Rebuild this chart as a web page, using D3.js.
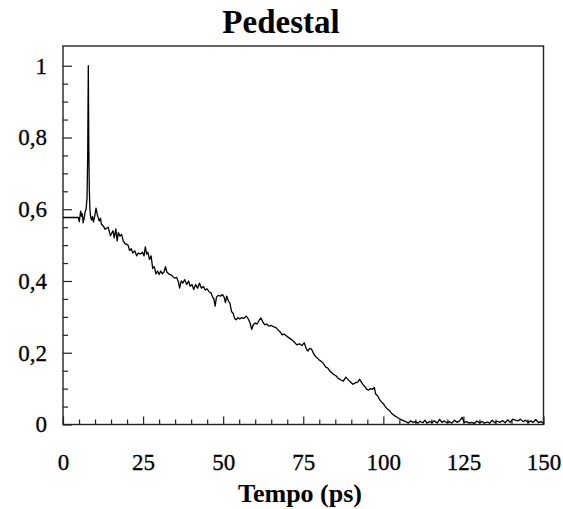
<!DOCTYPE html>
<html>
<head>
<meta charset="utf-8">
<script src="https://cdn.jsdelivr.net/npm/d3@7"></script>
<style>
  html, body { margin: 0; padding: 0; background: #fff; }
  svg { display: block; }
</style>
</head>
<body>
<svg id="chart" width="563" height="509"></svg>
<script>
// ---- data ----
const title = "Pedestal";
const xLabel = "Tempo (ps)";
const xTicks = [0, 25, 50, 75, 100, 125, 150];
const yTicks = [0, 0.2, 0.4, 0.6, 0.8, 1];

const tps = [
  0, 4.8, 5.1, 5.5, 5.8, 6.0, 6.3, 6.6, 6.9, 7.2, 7.5, 7.7, 7.9, 8.05, 8.2, 8.4, 8.6, 8.9, 9.2, 9.5, 9.9,
  10.3, 10.7, 11.3, 11.7, 12.0, 12.7, 13.1, 14.1, 14.8, 15.6, 16.0, 16.5, 16.9, 17.3, 17.8, 18.3, 18.8, 19.3,
  20.3, 20.8, 21.3, 21.8, 22.4, 23.0, 23.5, 24.2, 24.8, 25.3, 25.7, 26.1, 26.5, 27.0, 27.5, 28.0, 28.5, 29.0,
  29.5, 30.0, 30.5, 31.0, 31.5, 32.0, 32.4, 33.0, 33.5, 34.0, 34.8, 35.5, 36.0, 36.4, 36.9, 37.4, 38.0, 38.6,
  39.2, 39.7, 40.3, 40.8, 41.4, 42.0, 42.6, 43.2, 43.8, 44.4, 45.0, 45.6, 46.2, 46.7, 47.1, 47.5, 47.9, 48.5,
  49.2, 49.8, 50.3, 50.7, 51.1, 51.6, 52.1, 52.6, 53.1, 53.6, 54.1, 54.6, 55.2, 55.8, 56.5, 57.2, 57.8, 58.4,
  58.9, 59.4, 60.0, 60.6, 61.2, 61.8, 62.4, 63.0, 63.6, 64.3, 65.0, 65.8, 66.5, 67.2, 67.8, 68.4, 69.0, 70.0,
  70.8, 71.6, 72.4, 73.0, 73.8, 74.6, 75.3, 76.0, 76.5, 77.0, 77.6, 78.2, 78.8, 79.4, 80.0, 80.6, 81.3, 82.0,
  82.6, 83.2, 83.8, 84.4, 85.2, 86.0, 86.8, 87.5, 88.3, 89.0, 89.8, 90.5, 91.2, 92.0, 92.6, 93.0, 93.6, 94.2,
  94.8, 95.4, 96.0, 96.6, 97.2, 97.6, 98.2, 98.8, 99.4, 100.0, 100.6, 101.2, 101.8, 102.4, 103.0, 103.6, 104.3,
  105.0, 105.7, 106.4, 107.0, 107.8, 108.5, 109.3, 110.0, 110.8, 111.5, 112.3, 113.0, 113.6, 114.4, 115.2,
  116.0, 116.8, 117.6, 118.3, 119.0, 119.8, 120.6, 121.4, 122.2, 123.0, 123.8, 124.6, 125.2, 126.0, 126.8,
  127.6, 128.4, 129.2, 130.0, 130.8, 131.6, 132.4, 133.2, 134.0, 134.8, 135.6, 136.4, 137.2, 138.0, 138.8,
  139.6, 140.4, 141.2, 142.0, 142.8, 143.6, 144.4, 145.2, 146.0, 146.8, 147.6, 148.4, 149.2, 150.0
];

const signal = [
  0.577, 0.577, 0.565, 0.595, 0.58, 0.588, 0.562, 0.575, 0.592, 0.60, 0.63, 0.74, 1.0, 0.78, 0.66, 0.60, 0.58, 0.57, 0.58, 0.565, 0.58,
  0.603, 0.585, 0.567, 0.575, 0.558, 0.552, 0.544, 0.55, 0.526, 0.54, 0.52, 0.545, 0.512, 0.535, 0.525, 0.53, 0.512, 0.505,
  0.50, 0.485, 0.49, 0.478, 0.484, 0.47, 0.478, 0.475, 0.48, 0.47, 0.495, 0.475, 0.48, 0.46, 0.47, 0.435, 0.44, 0.42,
  0.428, 0.418, 0.428, 0.42, 0.425, 0.44, 0.425, 0.42, 0.418, 0.415, 0.408, 0.41, 0.398, 0.38, 0.40, 0.394, 0.404, 0.39,
  0.40, 0.385, 0.39, 0.376, 0.39, 0.38, 0.394, 0.38, 0.385, 0.375, 0.378, 0.37, 0.367, 0.355, 0.35, 0.33, 0.355, 0.36,
  0.358, 0.362, 0.355, 0.34, 0.358, 0.345, 0.338, 0.315, 0.31, 0.295, 0.292, 0.298, 0.294, 0.298, 0.296, 0.302, 0.295, 0.283,
  0.265, 0.278, 0.283, 0.28, 0.29, 0.297, 0.285, 0.278, 0.28, 0.274, 0.276, 0.272, 0.27, 0.263, 0.258, 0.25, 0.252, 0.245,
  0.24, 0.235, 0.228, 0.222, 0.225, 0.22, 0.228, 0.21, 0.205, 0.212, 0.21, 0.198, 0.19, 0.185, 0.18, 0.176, 0.17, 0.16,
  0.158, 0.15, 0.145, 0.14, 0.136, 0.128, 0.124, 0.121, 0.132, 0.125, 0.118, 0.112, 0.116, 0.118, 0.126, 0.12, 0.112, 0.106,
  0.098, 0.096, 0.10, 0.098, 0.103, 0.085, 0.08, 0.07, 0.063, 0.058, 0.05, 0.044, 0.04, 0.033, 0.028, 0.024, 0.02,
  0.016, 0.013, 0.01, 0.008, 0.004, 0.01, 0.006, 0.008, 0.004, 0.009, 0.005, 0.012, 0.004, 0.008, 0.006,
  0.01, 0.004, 0.014, 0.006, 0.01, 0.005, 0.008, 0.004, 0.012, 0.006, 0.01, 0.02, 0.006, 0.008, 0.004,
  0.006, 0.003, 0.01, 0.005, 0.008, 0.004, 0.007, 0.004, 0.012, 0.005, 0.009, 0.006, 0.011, 0.005, 0.013,
  0.006, 0.015, 0.012, 0.01, 0.015, 0.008, 0.012, 0.006, 0.01, 0.006, 0.014, 0.005, 0.008, 0.004
];

// ---- layout ----
const svg = d3.select("#chart");
const mLeft = 63, mRight = 543.5, mTop = 46, mBottom = 424.5;

const x = d3.scaleLinear().domain([0, 150]).range([mLeft, mRight]);
const y = d3.scaleLinear().domain([0, 1.055]).range([mBottom, mTop]);

const serif = "'Liberation Serif', 'Times New Roman', serif";

// title
svg.append("text")
  .attr("x", 281).attr("y", 33)
  .attr("text-anchor", "middle")
  .attr("font-family", serif).attr("font-weight", "bold").attr("font-size", 33)
  .text(title);

// frame
svg.append("rect")
  .attr("x", mLeft).attr("y", mTop)
  .attr("width", mRight - mLeft).attr("height", mBottom - mTop)
  .attr("fill", "none").attr("stroke", "#222").attr("stroke-width", 1.4);

// y axis minor ticks
const fmt = d => d === 0 ? "0" : d === 1 ? "1" : d3.format(".1f")(d).replace(".", ",");
const yMinor = d3.range(0, 1.0001, 0.05).filter(v => Math.round(v * 100) % 20 !== 0);
svg.append("g").attr("transform", `translate(${mLeft},0)`)
  .call(d3.axisLeft(y).tickValues(yMinor).tickSize(-5).tickFormat(""))
  .call(g => g.select(".domain").remove())
  .call(g => g.selectAll("line").attr("stroke", "#222").attr("stroke-width", 1.2));

const yAx = svg.append("g").attr("transform", `translate(${mLeft},0)`)
  .call(d3.axisLeft(y).tickValues(yTicks).tickSize(-9).tickPadding(16).tickFormat(fmt));
yAx.select(".domain").remove();
yAx.selectAll("line").attr("stroke", "#222").attr("stroke-width", 1.2);
yAx.selectAll("text").attr("font-family", serif).attr("font-size", 23).attr("fill", "#000")
  .attr("stroke", "#000").attr("stroke-width", 0.3);

// x axis minor ticks
const xMinor = d3.range(5, 150, 5).filter(v => v % 25 !== 0);
svg.append("g").attr("transform", `translate(0,${mBottom})`)
  .call(d3.axisBottom(x).tickValues(xMinor).tickSize(-5).tickFormat(""))
  .call(g => g.select(".domain").remove())
  .call(g => g.selectAll("line").attr("stroke", "#222").attr("stroke-width", 1.2));

const xAx = svg.append("g").attr("transform", `translate(0,${mBottom})`)
  .call(d3.axisBottom(x).tickValues(xTicks).tickSize(-8).tickPadding(29).tickFormat(d3.format("d")));
xAx.select(".domain").remove();
xAx.selectAll("line").attr("stroke", "#222").attr("stroke-width", 1.2);
xAx.selectAll("text").attr("font-family", serif).attr("font-size", 23).attr("fill", "#000")
  .attr("stroke", "#000").attr("stroke-width", 0.3);

// x label
svg.append("text")
  .attr("x", 300).attr("y", 502)
  .attr("text-anchor", "middle")
  .attr("font-family", serif).attr("font-weight", "bold").attr("font-size", 26)
  .text(xLabel);

// signal line
const pts = tps.map((t, i) => [t, signal[i]]);
svg.append("path")
  .datum(pts)
  .attr("fill", "none")
  .attr("stroke", "#000")
  .attr("stroke-width", 1.3)
  .attr("stroke-linejoin", "round")
  .attr("d", d3.line().x(d => x(d[0])).y(d => y(d[1])));
</script>
</body>
</html>
